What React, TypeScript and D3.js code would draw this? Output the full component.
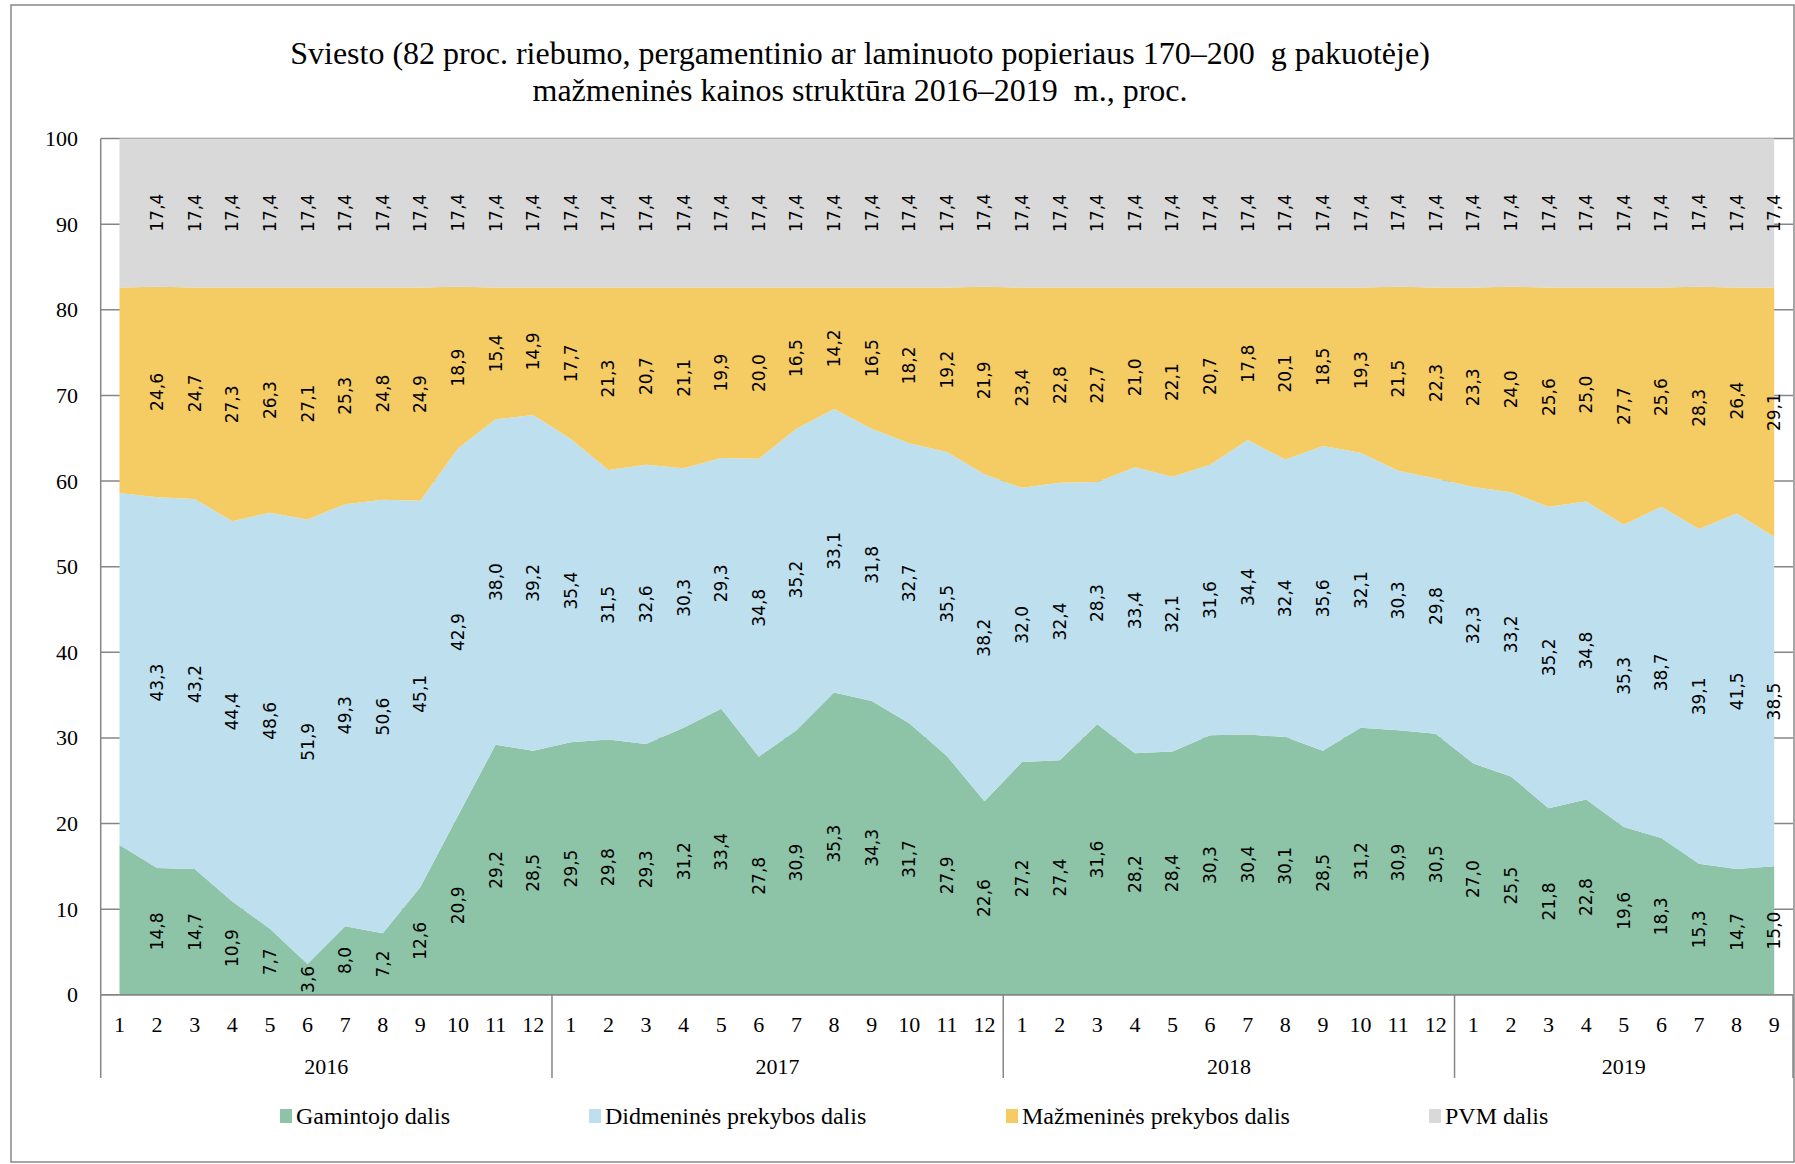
import React from "react";
import * as d3 from "d3";

// months per year on the x axis
const years = ["2016", "2017", "2018", "2019"];
const monthsPerYear = [12, 12, 12, 9];

// series values, proc. (first month of 2016 has no labels in the original)
const gamintojo = [
  17.5, 14.8, 14.7, 10.9, 7.7, 3.6, 8.0, 7.2, 12.6, 20.9, 29.2, 28.5,
  29.5, 29.8, 29.3, 31.2, 33.4, 27.8, 30.9, 35.3, 34.3, 31.7, 27.9, 22.6,
  27.2, 27.4, 31.6, 28.2, 28.4, 30.3, 30.4, 30.1, 28.5, 31.2, 30.9, 30.5,
  27.0, 25.5, 21.8, 22.8, 19.6, 18.3, 15.3, 14.7, 15.0,
];
const didmenines = [
  41.1, 43.3, 43.2, 44.4, 48.6, 51.9, 49.3, 50.6, 45.1, 42.9, 38.0, 39.2,
  35.4, 31.5, 32.6, 30.3, 29.3, 34.8, 35.2, 33.1, 31.8, 32.7, 35.5, 38.2,
  32.0, 32.4, 28.3, 33.4, 32.1, 31.6, 34.4, 32.4, 35.6, 32.1, 30.3, 29.8,
  32.3, 33.2, 35.2, 34.8, 35.3, 38.7, 39.1, 41.5, 38.5,
];
const mazmenines = [
  24.0, 24.6, 24.7, 27.3, 26.3, 27.1, 25.3, 24.8, 24.9, 18.9, 15.4, 14.9,
  17.7, 21.3, 20.7, 21.1, 19.9, 20.0, 16.5, 14.2, 16.5, 18.2, 19.2, 21.9,
  23.4, 22.8, 22.7, 21.0, 22.1, 20.7, 17.8, 20.1, 18.5, 19.3, 21.5, 22.3,
  23.3, 24.0, 25.6, 25.0, 27.7, 25.6, 28.3, 26.4, 29.1,
];
const pvm = [
  17.4, 17.4, 17.4, 17.4, 17.4, 17.4, 17.4, 17.4, 17.4, 17.4, 17.4, 17.4,
  17.4, 17.4, 17.4, 17.4, 17.4, 17.4, 17.4, 17.4, 17.4, 17.4, 17.4, 17.4,
  17.4, 17.4, 17.4, 17.4, 17.4, 17.4, 17.4, 17.4, 17.4, 17.4, 17.4, 17.4,
  17.4, 17.4, 17.4, 17.4, 17.4, 17.4, 17.4, 17.4, 17.4,
];
const unlabeled = [0];

const seriesKeys = ["g", "d", "m", "p"];
const seriesNames = [
  "Gamintojo dalis",
  "Didmeninės prekybos dalis",
  "Mažmeninės prekybos dalis",
  "PVM dalis",
];
const seriesColors = ["#8DC3A7", "#BDDFEE", "#F5CB64", "#D9D9D9"];
const yTicks = [0, 10, 20, 30, 40, 50, 60, 70, 80, 90, 100];

const W = 1795;
const H = 1164;
const FONT = "'Liberation Serif', 'Times New Roman', serif";
const LABEL_FONT = "'DejaVu Sans', Verdana, sans-serif";

export default function App() {
  const x0 = 100.7, x1 = 1793, yTop = 138.5, yBot = 994.8;

  const cats = years.flatMap((yr, i) =>
    d3.range(1, monthsPerYear[i] + 1).map((m) => ({ year: yr, month: m }))
  );
  const rows = cats.map((c, i) => ({
    i,
    g: gamintojo[i],
    d: didmenines[i],
    m: mazmenines[i],
    p: pvm[i],
  }));
  const layers = d3.stack().keys(seriesKeys)(rows as any);

  const x = d3.scaleBand<number>().domain(d3.range(cats.length)).range([x0, x1]);
  const bw = x.bandwidth();
  const cx = (i: number) => (x(i) as number) + bw / 2;
  const y = d3.scaleLinear().domain([0, 100]).range([yBot, yTop]);

  const area = d3
    .area<any>()
    .x((d) => cx(d.data.i))
    .y0((d) => y(d[0]))
    .y1((d) => y(Math.min(100, d[1])));

  const fmt = (v: number) => d3.format(".1f")(v).replace(".", ",");

  // year separators
  let acc = 0;
  const seps = [x0];
  const yearMid: number[] = [];
  monthsPerYear.forEach((n) => {
    const a = x0 + acc * bw;
    acc += n;
    const b = x0 + acc * bw;
    seps.push(b);
    yearMid.push((a + b) / 2);
  });

  const axisColor = "#868686";
  const legendX = [280, 589, 1006, 1429];

  return (
    <svg
      width={W}
      height={H}
      style={{ position: "absolute", left: 0, top: 0, background: "#fff" }}
      fontFamily={FONT}
    >
      <rect x={11} y={5} width={W - 12} height={H - 7} fill="#fff" stroke="#888" strokeWidth={1.5} />

      <text x={860} y={52.7} textAnchor="middle" dominantBaseline="central" fontSize={32}>
        Sviesto (82 proc. riebumo, pergamentinio ar laminuoto popieriaus 170–200{"\u00a0"} g pakuotėje)
      </text>
      <text x={860} y={90.4} textAnchor="middle" dominantBaseline="central" fontSize={32}>
        mažmeninės kainos struktūra 2016–2019{"\u00a0"} m., proc.
      </text>

      {/* gridlines, only visible beside the areas */}
      {yTicks.map((t) => (
        <line key={t} x1={x0} x2={x1} y1={y(t)} y2={y(t)} stroke={axisColor} strokeWidth={1.5} />
      ))}

      {layers.map((l, k) => (
        <path key={k} d={area(l as any) || ""} fill={seriesColors[k]} />
      ))}

      {/* data labels */}
      {layers.map((l, k) =>
        l.map((d: any, i: number) =>
          unlabeled.includes(i) ? null : (
            <text
              key={k + "-" + i}
              transform={`translate(${cx(i)},${y((d[0] + Math.min(100, d[1])) / 2)}) rotate(-90)`}
              textAnchor="middle"
              dominantBaseline="central"
              fontSize={17}
              fontFamily={LABEL_FONT}
              fill="#000"
            >
              {fmt(d[1] - d[0])}
            </text>
          )
        )
      )}

      {/* axes */}
      <line x1={x0} x2={x0} y1={yTop} y2={yBot} stroke={axisColor} strokeWidth={1.5} />
      <line x1={x0} x2={x1} y1={yBot} y2={yBot} stroke={axisColor} strokeWidth={1.5} />
      {yTicks.map((t) => (
        <text key={t} x={78} y={y(t)} textAnchor="end" dominantBaseline="central" fontSize={22}>
          {t}
        </text>
      ))}
      {seps.map((s, i) => (
        <line key={i} x1={s} x2={s} y1={yBot} y2={1078} stroke={axisColor} strokeWidth={1.5} />
      ))}
      {cats.map((c, i) => (
        <text key={i} x={cx(i)} y={1024.6} textAnchor="middle" dominantBaseline="central" fontSize={22}>
          {c.month}
        </text>
      ))}
      {years.map((yr, i) => (
        <text key={yr} x={yearMid[i]} y={1066} textAnchor="middle" dominantBaseline="central" fontSize={22}>
          {yr}
        </text>
      ))}

      {/* legend */}
      {seriesNames.map((name, k) => (
        <g key={name} transform={`translate(${legendX[k]},1116)`}>
          <rect x={0} y={-7} width={12} height={14} fill={seriesColors[k]} />
          <text x={16} y={0} dominantBaseline="central" fontSize={24}>
            {name}
          </text>
        </g>
      ))}
    </svg>
  );
}
